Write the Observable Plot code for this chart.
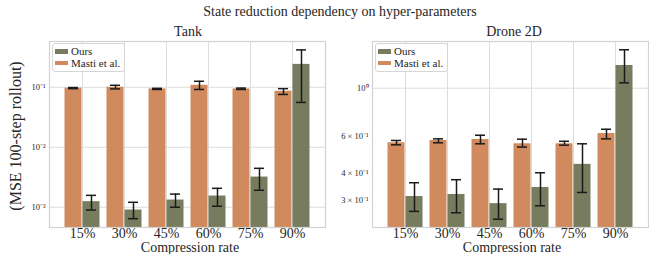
<!DOCTYPE html>
<html>
<head>
<meta charset="utf-8">
<script src="https://cdn.jsdelivr.net/npm/d3@7"></script>
<script src="https://cdn.jsdelivr.net/npm/@observablehq/plot@0.6"></script>
<style>
  html, body { margin: 0; padding: 0; background: #fff; }
  #root { position: relative; width: 649px; height: 254px; overflow: hidden; font-family: "Liberation Serif", "Times New Roman", serif; color: #262626; }
  .abs { position: absolute; white-space: nowrap; line-height: 1; }
  .legend { position: absolute; border: 1px solid #d6d6d6; border-radius: 3px; background: rgba(255,255,255,0.85); font-size: 11px; padding: 2px 4px 2px 2px; line-height: 11.5px; font-family: "Liberation Serif", "Times New Roman", serif; }
  .sw { display: inline-block; width: 13px; height: 4.5px; margin-right: 3px; vertical-align: middle; position: relative; top: -1px; }
</style>
</head>
<body>
<div id="root"></div>
<script>
const categories = ["15%", "30%", "45%", "60%", "75%", "90%"];
const seriesNames = ["Ours", "Masti et al."];
const colors = ["#777c5e", "#d08a5e"];

// Tank panel
const tankOurs   = [1.24e-3, 9.0e-4, 1.32e-3, 1.54e-3, 3.19e-3, 0.241];
const tankOursLo = [9.0e-4, 6.45e-4, 1.0e-3, 1.04e-3, 1.92e-3, 0.056];
const tankOursHi = [1.58e-3, 1.21e-3, 1.66e-3, 2.07e-3, 4.46e-3, 0.42];
const tankMasti   = [0.097, 0.100, 0.094, 0.108, 0.094, 0.086];
const tankMastiLo = [0.095, 0.094, 0.092, 0.092, 0.092, 0.076];
const tankMastiHi = [0.099, 0.108, 0.096, 0.126, 0.097, 0.095];
const tankYTicks = [1e-3, 1e-2, 1e-1];
const tankYTickLabels = ["10\u207B\u00B3", "10\u207B\u00B2", "10\u207B\u00B9"];
const tankYDomain = [4.6e-4, 0.58];

// Drone 2D panel
const droneOurs   = [0.313, 0.320, 0.290, 0.345, 0.442, 1.276];
const droneOursLo = [0.267, 0.263, 0.2455, 0.2835, 0.327, 1.059];
const droneOursHi = [0.363, 0.375, 0.339, 0.404, 0.551, 1.51];
const droneMasti   = [0.557, 0.571, 0.577, 0.551, 0.551, 0.615];
const droneMastiLo = [0.545, 0.557, 0.551, 0.532, 0.543, 0.581];
const droneMastiHi = [0.571, 0.581, 0.604, 0.579, 0.566, 0.644];
const droneYTicks = [0.3, 0.4, 0.6, 1];
const droneYTickLabels = ["3 \u00D7 10\u207B\u00B9", "4 \u00D7 10\u207B\u00B9", "6 \u00D7 10\u207B\u00B9", "10\u2070"];
const droneYGrid = [1];
const droneYDomain = [0.2246, 1.65];

const root = document.getElementById("root");

function panel(o) {
  const rows = categories.map((c, i) => ({
    cat: c,
    ours: o.ours[i], oursLo: o.oursLo[i], oursHi: o.oursHi[i],
    masti: o.masti[i], mastiLo: o.mastiLo[i], mastiHi: o.mastiHi[i]
  }));
  const y0 = o.yDomain[0];
  const labelMap = new Map(o.yTicks.map((t, i) => [t, o.yTickLabels[i]]));
  const errStyle = {stroke: "#1a1a1a", strokeWidth: 1.5};
  const svg = Plot.plot({
    width: o.width, height: 254,
    marginLeft: 49, marginRight: o.marginRight, marginTop: 41, marginBottom: 27,
    style: {fontFamily: "'Liberation Serif', 'Times New Roman', serif", background: "transparent", color: "#262626"},
    x: {type: "band", domain: categories, paddingInner: 0, paddingOuter: 0.21, label: null},
    y: {type: "log", domain: o.yDomain, label: null},
    marks: [
      Plot.gridX(categories, {stroke: "#dddddd", strokeOpacity: 1, strokeWidth: 1}),
      Plot.gridY(o.yGrid, {stroke: "#dddddd", strokeOpacity: 1, strokeWidth: 1}),
      Plot.rectY(rows, {x: "cat", y1: y0, y2: "masti", fill: colors[1], insetLeft: 3.5, insetRight: 21.5, clip: true}),
      Plot.rectY(rows, {x: "cat", y1: y0, y2: "ours", fill: colors[0], insetLeft: 21.5, insetRight: 3.5, clip: true}),
      Plot.ruleX(rows, {x: "cat", y1: "mastiLo", y2: "mastiHi", dx: -9, ...errStyle, clip: true}),
      Plot.tickY(rows, {x: "cat", y: "mastiLo", insetLeft: 7, insetRight: 25, ...errStyle}),
      Plot.tickY(rows, {x: "cat", y: "mastiHi", insetLeft: 7, insetRight: 25, ...errStyle}),
      Plot.ruleX(rows, {x: "cat", y1: "oursLo", y2: "oursHi", dx: 9, ...errStyle, clip: true}),
      Plot.tickY(rows, {x: "cat", y: "oursLo", insetLeft: 25, insetRight: 7, ...errStyle}),
      Plot.tickY(rows, {x: "cat", y: "oursHi", insetLeft: 25, insetRight: 7, ...errStyle}),
      Plot.frame({stroke: "#d2d2d2", strokeWidth: 1.2}),
      Plot.axisY({ticks: o.yTicks, tickFormat: d => labelMap.get(d), tickSize: 0, tickPadding: 4, fontSize: 8.5, label: null}),
      Plot.axisX({tickSize: 0, tickPadding: 1, fontSize: 14, label: null})
    ]
  });
  svg.style.position = "absolute";
  svg.style.left = o.left + "px";
  svg.style.top = "0px";
  root.appendChild(svg);
}

panel({ours: tankOurs, oursLo: tankOursLo, oursHi: tankOursHi, masti: tankMasti, mastiLo: tankMastiLo, mastiHi: tankMastiHi,
  yTicks: tankYTicks, yTickLabels: tankYTickLabels, yGrid: tankYTicks, yDomain: tankYDomain, width: 330, marginRight: 5, left: 0});
panel({ours: droneOurs, oursLo: droneOursLo, oursHi: droneOursHi, masti: droneMasti, mastiLo: droneMastiLo, mastiHi: droneMastiHi,
  yTicks: droneYTicks, yTickLabels: droneYTickLabels, yGrid: droneYGrid, yDomain: droneYDomain, width: 326, marginRight: 1, left: 323});

function addText(txt, x, y, size) {
  const d = document.createElement("div");
  d.className = "abs";
  d.textContent = txt;
  d.style.left = x + "px";
  d.style.top = y + "px";
  d.style.fontSize = size + "px";
  d.style.transform = "translate(-50%, 0)";
  root.appendChild(d);
  return d;
}
addText("State reduction dependency on hyper-parameters", 340, 5, 14);
addText("Tank", 188, 25, 14);
addText("Drone 2D", 514, 25, 14);
addText("Compression rate", 190, 241, 14);
addText("Compression rate", 512, 241, 14);
const yl = addText("(MSE 100-step rollout)", 16, 136, 16);
yl.style.transform = "translate(-50%, -50%) rotate(-90deg)";

function legend(x, y) {
  const d = document.createElement("div");
  d.className = "legend";
  d.style.left = x + "px";
  d.style.top = y + "px";
  d.innerHTML = seriesNames.map((n, i) => `<div><span class="sw" style="background:${colors[i]}"></span>${n}</div>`).join("");
  root.appendChild(d);
}
legend(52, 43);
legend(375, 43);
</script>
</body>
</html>
